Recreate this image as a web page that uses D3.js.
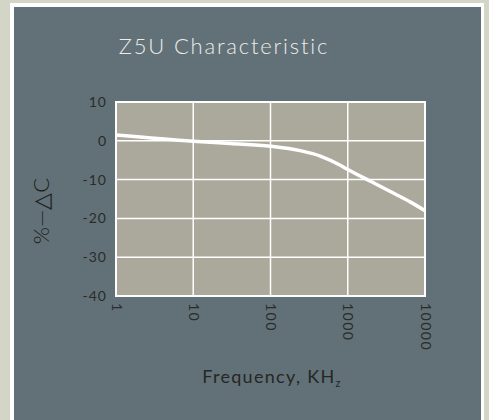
<!DOCTYPE html>
<html>
<head>
<meta charset="utf-8">
<script src="https://cdn.jsdelivr.net/npm/d3@7"></script>
<style>
  body { margin: 0; background: #d3d5c6; }
  text { font-family: Lato, "DejaVu Sans", sans-serif; }
</style>
</head>
<body>
<div id="chart-area"></div>
<script>
// Z5U characteristic: capacitance change vs frequency
var freqs = [1, 10, 30, 100, 250, 450, 800, 1000, 2000, 3500, 6500, 10000];
var deltaC = [1.5, -0.1, -0.7, -1.4, -2.6, -4.0, -6.3, -7.4, -10.5, -13.0, -15.8, -18.0];
var xTicks = [1, 10, 100, 1000, 10000];
var yTicks = [10, 0, -10, -20, -30, -40];

const W = 489, H = 420;
const margin = { top: 102, left: 116, right: 64, bottom: 124 };
const width = W - margin.left - margin.right;
const height = H - margin.top - margin.bottom;

const svg = d3.select("#chart-area").append("svg")
    .attr("width", W).attr("height", H);

// frame + panel
svg.append("rect").attr("x", 10).attr("y", 3).attr("width", 474).attr("height", 430).attr("fill", "#ffffff");
svg.append("rect").attr("x", 14).attr("y", 7).attr("width", 467).attr("height", 420).attr("fill", "#617177");

svg.append("text")
    .attr("x", 224).attr("y", 54)
    .attr("text-anchor", "middle")
    .attr("font-size", "22px")
    .attr("font-weight", 300)
    .attr("letter-spacing", "1.8px")
    .style("fill", "#ececea")
    .text("Z5U Characteristic");

const g = svg.append("g").attr("transform", "translate(" + margin.left + "," + margin.top + ")");

const x = d3.scaleLog().domain([1, 10000]).range([0, width]);
const y = d3.scaleLinear().domain([-40, 10]).range([height, 0]);

g.append("rect").attr("width", width).attr("height", height).attr("fill", "#aba99b");

// grid
g.selectAll(".vgrid").data(xTicks).enter().append("line")
    .attr("x1", d => x(d)).attr("x2", d => x(d))
    .attr("y1", 0).attr("y2", height)
    .attr("stroke", "#ffffff").attr("stroke-width", 1.5);
g.selectAll(".hgrid").data(yTicks).enter().append("line")
    .attr("y1", d => y(d)).attr("y2", d => y(d))
    .attr("x1", 0).attr("x2", width)
    .attr("stroke", "#ffffff").attr("stroke-width", 1.5);
g.append("rect").attr("width", width).attr("height", height)
    .attr("fill", "none").attr("stroke", "#ffffff").attr("stroke-width", 2);

// axes (labels only)
const leftAxis = d3.axisLeft(y).tickValues(yTicks).tickSize(0).tickPadding(9)
    .tickFormat(d => String(d));
const bottomAxis = d3.axisBottom(x).tickValues(xTicks).tickFormat(d => String(d)).tickSize(0);

const ya = g.append("g").call(leftAxis);
ya.select(".domain").remove();
ya.selectAll("text").attr("font-size", "14px").style("fill", "#2b2b2b")
    .attr("font-family", "Lato, sans-serif").attr("letter-spacing", "1px");

const xa = g.append("g").attr("transform", "translate(0," + height + ")").call(bottomAxis);
xa.select(".domain").remove();
xa.selectAll("text")
    .attr("font-size", "14px").style("fill", "#2b2b2b")
    .attr("font-family", "Lato, sans-serif").attr("letter-spacing", "1.5px")
    .attr("text-anchor", "start")
    .attr("dy", "0.35em").attr("y", 0).attr("x", 0)
    .attr("transform", "translate(0,7) rotate(90)");

// curve
const line = d3.line().x(d => x(d[0])).y(d => y(d[1])).curve(d3.curveMonotoneX);
g.append("path")
    .datum(freqs.map((f, i) => [f, deltaC[i]]))
    .attr("d", line)
    .attr("fill", "none")
    .attr("stroke", "#ffffff")
    .attr("stroke-width", 3.5);

// axis titles
svg.append("text")
    .attr("transform", "translate(49,211) rotate(-90)")
    .attr("text-anchor", "middle")
    .attr("font-size", "22px")
    .attr("font-weight", 300)
    .style("fill", "#1e1e1e")
    .text("%\u2014\u25B3C");

const xl = svg.append("text")
    .attr("x", 272).attr("y", 383)
    .attr("text-anchor", "middle")
    .attr("font-size", "18px")
    .attr("letter-spacing", "1.3px")
    .style("fill", "#262626");
xl.append("tspan").text("Frequency, KH");
xl.append("tspan").attr("font-size", "11px").attr("dy", "4").text("z");
</script>
</body>
</html>
